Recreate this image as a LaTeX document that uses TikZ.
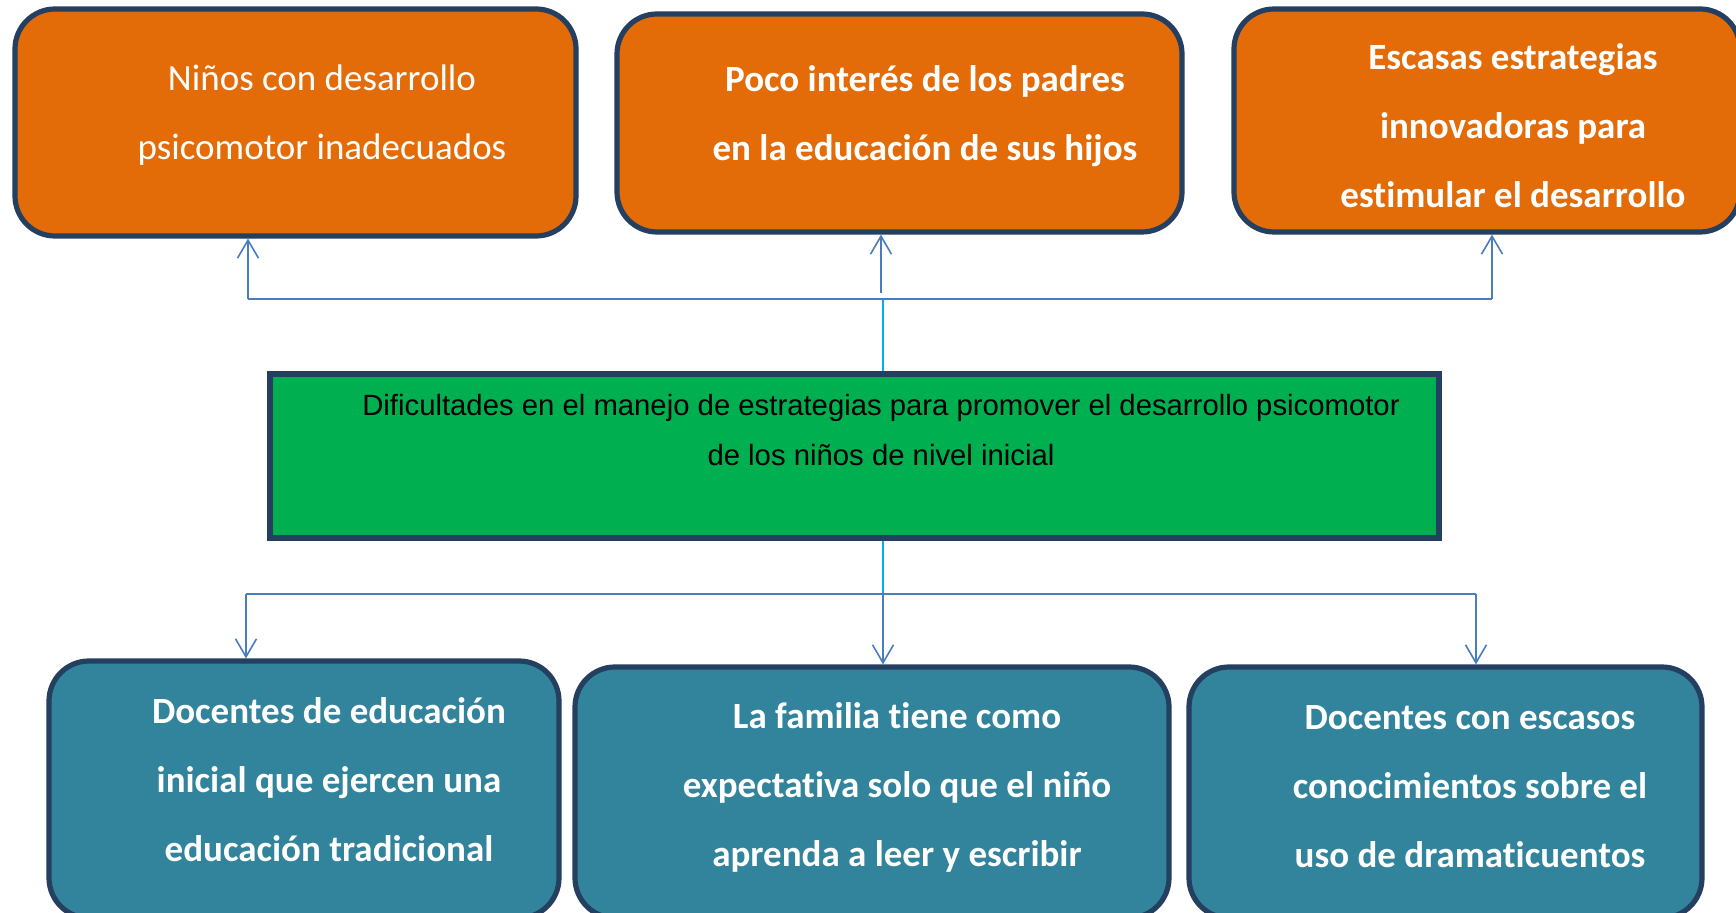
\documentclass[tikz,border=0pt]{standalone}
\usepackage{fontspec}
\newfontfamily\calibri[Ligatures={TeX,NoCommon}]{Carlito}
\newfontfamily\arial{Liberation Sans}
\usetikzlibrary{arrows.meta}

\definecolor{effectorange}{HTML}{E36C09}
\definecolor{causeteal}{HTML}{31849B}
\definecolor{problemgreen}{HTML}{00B050}
\definecolor{boxnavy}{HTML}{243F60}
\definecolor{linkblue}{HTML}{4A7EBB}
\definecolor{linkcyan}{HTML}{00B0F0}

\tikzset{
  effect/.style={draw=boxnavy, line width=2.6pt, fill=effectorange, rounded corners=20pt},
  cause/.style={draw=boxnavy, line width=2.6pt, fill=causeteal, rounded corners=20pt},
  problem/.style={draw=boxnavy, line width=2.6pt, fill=problemgreen},
  boxtext/.style={text=white, align=center, font=\calibri\fontsize{18.5pt}{34.5pt}\selectfont},
  boldtext/.style={boxtext, font=\calibri\bfseries\fontsize{18.5pt}{34.5pt}\selectfont},
  problemtext/.style={text=black, align=center, font=\arial\fontsize{14.65pt}{25pt}\selectfont},
  link/.style={draw=linkblue, line width=0.8pt},
  stem/.style={draw=linkcyan, line width=0.8pt},
}

\begin{document}
\begin{tikzpicture}[x=0.5pt,y=-0.5pt,>={Straight Barb[length=9pt,width=10.5pt]}]
  \useasboundingbox (0,0) rectangle (1736,913);

  % effects
  \node[effect, minimum width=280.5pt, minimum height=113.5pt] (ef1) at (295.5,122.5) {};
  \node[effect, minimum width=282.5pt, minimum height=109pt]   (ef2) at (899.5,123)   {};
  \node[effect, minimum width=253pt,   minimum height=111.5pt] (ef3) at (1487,120.5)  {};
  \node[boxtext]  (t1) at (322,115)  {Niños con desarrollo\\psicomotor inadecuados};
  \node[boldtext] (t2) at (925,116)  {Poco interés de los padres\\en la educación de sus hijos};
  \node[boldtext] (t3) at (1513,125.5) {Escasas estrategias\\innovadoras para\\estimular el desarrollo};

  % problem
  \node[problem, minimum width=584.5pt, minimum height=82pt] (prob) at (854.5,456) {};
  \node[problemtext] (tp) at (881,430) {Dificultades en el manejo de estrategias para promover el desarrollo psicomotor\\de los niños de nivel inicial};

  % causes
  \node[cause, minimum width=255pt,   minimum height=128.5pt] (ca1) at (304,789.5)  {};
  \node[cause, minimum width=297pt,   minimum height=125.5pt] (ca2) at (872,792.5)  {};
  \node[cause, minimum width=256.5pt, minimum height=125.5pt] (ca3) at (1445.5,792.5) {};
  \node[boldtext] (t4) at (329,779.5) {Docentes de educación\\inicial que ejercen una\\educación tradicional};
  \node[boldtext] (t5) at (897,787)   {La familia tiene como\\expectativa solo que el niño\\aprenda a leer y escribir};
  \node[boldtext] (t6) at (1470,786.5) {Docentes con escasos\\conocimientos sobre el\\uso de dramaticuentos};

  % upper connectors
  \coordinate (topL)   at (248,299);
  \coordinate (topR)   at (1492,299);
  \coordinate (topmid) at (883,299);
  \coordinate (up2)    at (881,293);
  \draw[stem] (prob.north -| topmid) -- (topmid);
  \draw[link] (topL) -- (topR);
  \draw[link,->] (topL) -- (topL |- ef1.south);
  \draw[link,->] (up2)  -- (up2 |- ef2.south);
  \draw[link,->] (topR) -- (topR |- ef3.south);

  % lower connectors
  \coordinate (botL)   at (246,594);
  \coordinate (botR)   at (1476,594);
  \coordinate (botmid) at (883,594);
  \draw[stem] (prob.south -| botmid) -- (botmid);
  \draw[link] (botL) -- (botR);
  \draw[link,->] (botL)   -- (botL |- ca1.north);
  \draw[link,->] (botmid) -- (botmid |- ca2.north);
  \draw[link,->] (botR)   -- (botR |- ca3.north);
\end{tikzpicture}
\end{document}
